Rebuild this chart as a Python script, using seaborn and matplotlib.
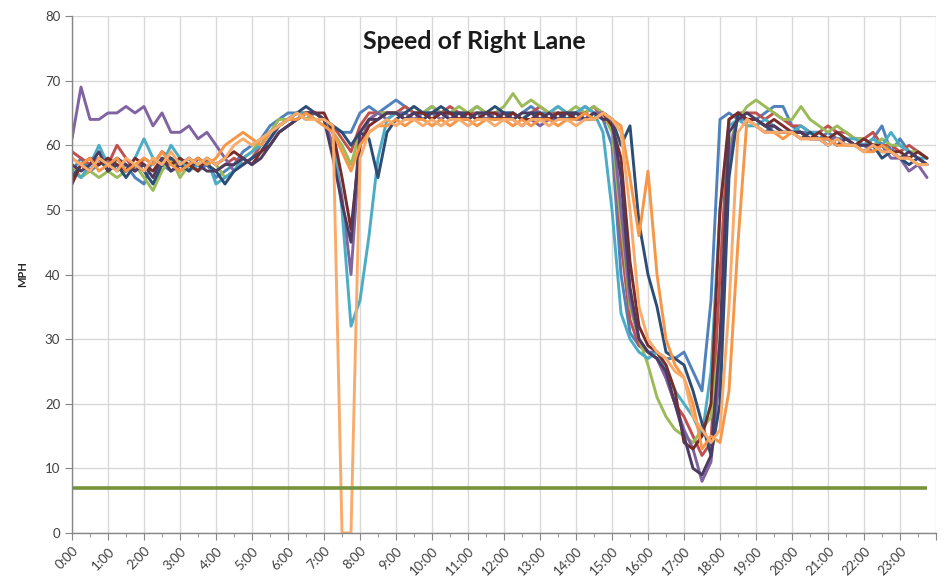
import numpy as np
import pandas as pd
import matplotlib
matplotlib.use("Agg")
import matplotlib.pyplot as plt
import seaborn as sns

# 15-minute samples over the day (hours)
times = [i / 4 for i in range(96)]

blue = [56, 58, 56, 57, 58, 56, 57, 55, 54, 58, 57, 56, 57, 58, 56, 57,
        55, 56, 57, 59, 60, 61, 63, 64, 65, 65, 64, 65, 64, 63, 62, 62,
        65, 66, 65, 66, 67, 66, 65, 65, 66, 65, 65, 64, 65, 66, 65, 64,
        65, 64, 65, 66, 65, 65, 64, 65, 65, 66, 65, 64, 60, 40, 31, 29,
        28, 28, 27, 27, 28, 25, 22, 36, 64, 65, 64, 64, 64, 65, 66, 66,
        63, 62, 62, 61, 62, 61, 61, 60, 60, 61, 63, 59, 61, 59, 58, 57]
red = [59, 58, 57, 58, 57, 60, 58, 56, 58, 57, 59, 58, 56, 57, 58, 57,
       56, 57, 58, 57, 58, 60, 62, 63, 64, 65, 65, 65, 64, 63, 61, 59,
       63, 65, 65, 65, 65, 66, 65, 65, 64, 65, 66, 65, 65, 65, 64, 65,
       64, 65, 64, 65, 66, 65, 65, 64, 65, 65, 66, 64, 63, 45, 33, 29,
       28, 27, 24, 20, 18, 15, 12, 14, 40, 64, 65, 65, 65, 64, 65, 64,
       63, 63, 62, 62, 63, 62, 62, 61, 61, 62, 60, 60, 59, 60, 59, 58]
green = [57, 55, 56, 55, 56, 55, 56, 57, 55, 53, 56, 58, 55, 57, 56, 58,
         57, 55, 56, 58, 59, 61, 62, 64, 64, 65, 64, 65, 64, 62, 60, 57,
         62, 64, 65, 65, 65, 65, 66, 65, 66, 65, 65, 66, 65, 66, 65, 65,
         66, 68, 66, 67, 66, 65, 66, 65, 66, 65, 66, 65, 62, 48, 35, 30,
         26, 21, 18, 16, 15, 14, 16, 18, 30, 60, 64, 66, 67, 66, 65, 64,
         64, 66, 64, 63, 62, 63, 62, 61, 61, 60, 61, 60, 60, 59, 59, 58]
purple = [61, 69, 64, 64, 65, 65, 66, 65, 66, 63, 65, 62, 62, 63, 61, 62,
          60, 58, 56, 57, 58, 59, 61, 63, 64, 64, 65, 65, 64, 60, 52, 40,
          60, 64, 65, 64, 65, 65, 64, 65, 65, 64, 65, 64, 64, 65, 64, 65,
          65, 64, 63, 64, 63, 64, 64, 65, 64, 64, 65, 65, 64, 50, 36, 30,
          28, 27, 24, 20, 16, 13, 8, 11, 25, 58, 65, 64, 63, 62, 63, 62,
          62, 62, 61, 61, 61, 61, 60, 60, 60, 59, 60, 58, 58, 56, 57, 55]
aqua = [56, 55, 57, 60, 57, 58, 56, 58, 61, 58, 57, 60, 58, 56, 57, 58,
        54, 55, 56, 58, 59, 60, 62, 63, 64, 65, 65, 64, 64, 62, 50, 32,
        36, 46, 58, 64, 65, 64, 65, 65, 65, 65, 64, 65, 64, 65, 65, 64,
        65, 65, 64, 65, 64, 65, 66, 65, 65, 66, 65, 62, 50, 34, 30, 28,
        27, 28, 25, 22, 20, 18, 15, 25, 50, 63, 64, 63, 63, 64, 63, 62,
        62, 63, 62, 62, 61, 62, 61, 61, 60, 61, 60, 62, 60, 59, 58, 58]
orange = [58, 57, 58, 56, 57, 58, 56, 57, 58, 57, 59, 57, 56, 57, 58, 57,
          58, 60, 61, 62, 61, 60, 62, 63, 64, 64, 65, 64, 63, 62, 59, 56,
          60, 62, 63, 63, 64, 63, 64, 64, 63, 64, 63, 64, 64, 63, 64, 64,
          64, 63, 64, 63, 64, 64, 63, 64, 64, 65, 64, 65, 64, 63, 55, 46,
          56, 40, 30, 26, 24, 20, 13, 15, 14, 22, 45, 64, 63, 62, 62, 61,
          62, 61, 61, 61, 61, 60, 60, 60, 59, 59, 60, 59, 58, 58, 57, 57]
dark_blue = [55, 57, 56, 58, 56, 57, 55, 57, 56, 54, 57, 58, 57, 56, 58, 57,
             56, 54, 56, 57, 58, 59, 61, 63, 64, 65, 66, 65, 64, 63, 62, 60,
             62, 61, 55, 62, 64, 65, 66, 65, 65, 66, 65, 65, 65, 64, 65, 66,
             65, 65, 64, 65, 65, 64, 65, 64, 65, 64, 64, 65, 64, 60, 63, 48,
             40, 35, 28, 27, 26, 22, 17, 12, 20, 55, 65, 64, 64, 63, 62, 62,
             62, 61, 62, 61, 60, 61, 60, 60, 59, 60, 58, 59, 58, 57, 58, 57]
dark_red = [54, 57, 58, 57, 58, 57, 56, 58, 57, 56, 58, 57, 58, 57, 56, 58,
            57, 58, 59, 58, 57, 59, 60, 62, 63, 64, 65, 65, 65, 62, 55, 47,
            60, 63, 64, 65, 65, 64, 65, 65, 64, 65, 65, 64, 65, 64, 65, 65,
            64, 65, 64, 64, 65, 64, 65, 65, 64, 65, 64, 65, 63, 58, 42, 32,
            29, 28, 26, 22, 14, 13, 15, 20, 50, 64, 65, 64, 64, 63, 64, 63,
            62, 62, 61, 62, 61, 62, 61, 60, 61, 60, 60, 59, 59, 58, 59, 58]
dark_purple = [57, 56, 57, 59, 56, 58, 57, 56, 57, 55, 58, 56, 57, 58, 57, 56,
               56, 57, 57, 58, 57, 58, 60, 62, 63, 64, 65, 65, 64, 58, 51, 45,
               62, 64, 64, 65, 65, 64, 65, 64, 65, 65, 64, 65, 64, 65, 65, 64,
               65, 64, 65, 65, 64, 65, 64, 65, 65, 64, 65, 64, 64, 55, 38, 30,
               28, 27, 25, 20, 15, 10, 9, 12, 30, 62, 64, 65, 64, 63, 63, 62,
               62, 62, 61, 61, 61, 60, 61, 60, 60, 60, 59, 59, 58, 59, 58, 57]
light_orange = [58, 57, 56, 58, 57, 56, 58, 57, 56, 58, 57, 59, 57, 58, 57, 58,
                57, 58, 60, 61, 60, 61, 62, 63, 64, 65, 64, 64, 64, 63, 0, 0,
                58, 62, 63, 64, 63, 64, 64, 63, 64, 63, 64, 64, 63, 64, 64, 63,
                64, 64, 63, 64, 64, 63, 64, 64, 63, 64, 64, 65, 64, 62, 50, 35,
                30, 28, 27, 25, 24, 18, 16, 14, 16, 35, 62, 64, 63, 62, 62, 62,
                62, 61, 61, 61, 60, 61, 60, 60, 59, 60, 59, 59, 58, 58, 57, 57]

threshold_mph = 7

series = {
    "S1": (blue, "#4F81BD"),
    "S2": (red, "#C0504D"),
    "S3": (green, "#9BBB59"),
    "S4": (purple, "#8064A2"),
    "S5": (aqua, "#4BACC6"),
    "S6": (dark_blue, "#2C4D75"),
    "S7": (dark_red, "#772C2A"),
    "S8": (dark_purple, "#4D3B62"),
    "S9": (orange, "#F79646"),
    "S10": (light_orange, "#F9AB6B"),
}

rows = []
for name, (vals, _) in series.items():
    for t, v in zip(times, vals):
        rows.append({"time": t, "mph": v, "series": name})
df = pd.DataFrame(rows)
palette = {name: c for name, (_, c) in series.items()}

sns.set_style("whitegrid")
plt.rcParams["font.family"] = ["Lato", "DejaVu Sans"]

fig = plt.figure(figsize=(9.46, 5.79), dpi=100)
ax = fig.add_axes([72 / 946, 46 / 579, 864 / 946, 517 / 579])

sns.lineplot(data=df, x="time", y="mph", hue="series", palette=palette,
             linewidth=2.1, legend=False, ax=ax)
ax.hlines(threshold_mph, times[0], times[-1], color="#77933C", linewidth=2.6)

ax.set_xlim(0, 24)
ax.set_ylim(0, 80)
ax.set_yticks(range(0, 81, 10))
ax.set_xticks(range(25))
ax.set_xticklabels([f"{h}:00" for h in range(24)] + [""], rotation=45,
                   ha="right", rotation_mode="anchor", fontsize=9.5,
                   color="#404040")
ax.set_xticks(np.arange(0.5, 24, 1), minor=True)
ax.tick_params(axis="y", labelsize=9.5, labelcolor="#404040", left=True,
               length=5, color="#868686")
ax.tick_params(axis="x", which="major", bottom=True, length=5, color="#868686")
ax.tick_params(axis="x", which="minor", bottom=True, length=3, color="#868686")
ax.grid(True, which="major", color="#D9D9D9", linewidth=1)
ax.grid(False, which="minor")

for side in ["top", "right"]:
    ax.spines[side].set_visible(False)
for side in ["left", "bottom"]:
    ax.spines[side].set_color("#868686")
    ax.spines[side].set_linewidth(1)

ax.set_xlabel("")
ax.set_ylabel("MPH", fontsize=8, fontweight="bold", labelpad=12)

fig.text(0.501, 0.929, "Speed of Right Lane", ha="center", va="center",
         fontsize=18, fontweight="bold", color="#1a1a1a")

fig.savefig("out.png", dpi=100)
